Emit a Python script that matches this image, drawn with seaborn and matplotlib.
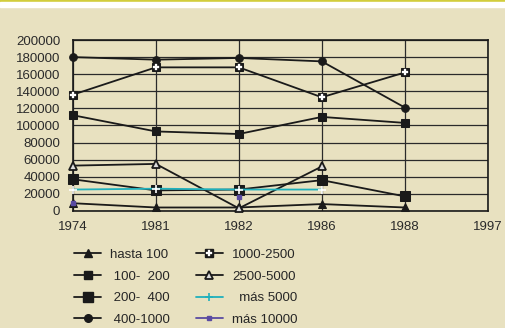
import numpy as np
import pandas as pd
import matplotlib
matplotlib.use('Agg')
import matplotlib.pyplot as plt
import seaborn as sns
from matplotlib.lines import Line2D
from matplotlib.legend_handler import HandlerTuple

# Data
years = ['1974', '1981', '1982', '1986', '1988', '1997']
hasta_100 = [9000, 4000, 4000, 8000, 4000]
r100_200 = [112000, 93000, 90000, 110000, 103000]
r200_400 = [37000, 24000, 25000, 36000, 17000]
r400_1000 = [180000, 177000, 179000, 175000, 121000]
r1000_2500 = [136000, 168000, 168000, 133000, 162000]
r2500_5000 = [53000, 55000, 3000, 52000]
mas_5000 = [25000, 26000, 25000, 25000]
mas_10000 = [9000, np.nan, 16000]

bg = '#E8E1C0'
ink = '#1a1a1a'
sns.set_theme(style='white', rc={'axes.facecolor': bg, 'figure.facecolor': bg})
plt.rcParams['font.family'] = ['Liberation Sans', 'DejaVu Sans']

fig = plt.figure(figsize=(5.06, 3.28), dpi=100)
ax = fig.add_axes([0.144, 0.357, 0.820, 0.521])

# top decorative band
fig.patches.append(plt.Rectangle((0, 1 - 2 / 328), 1, 2 / 328, transform=fig.transFigure,
                                 color='#D2CD3C', zorder=0))
fig.patches.append(plt.Rectangle((0, 1 - 7 / 328), 1, 5 / 328, transform=fig.transFigure,
                                 color='white', zorder=0))

lw = 1.3
styles = {
    'hasta 100': dict(color=ink, marker='^', ms=5.5, mfc=ink, mec=ink),
    '100-  200': dict(color=ink, marker='s', ms=5.5, mfc=ink, mec=ink),
    '200-  400': dict(color=ink, marker='s', ms=6.5, mfc=ink, mec=ink),
    '400-1000': dict(color=ink, marker='o', ms=5.5, mfc=ink, mec=ink),
    '1000-2500': dict(color=ink, marker='s', ms=6, mfc=ink, mec=ink),
    '2500-5000': dict(color=ink, marker='^', ms=5.5, mfc='#dcdcdc', mec=ink, mew=1.3),
    'más 5000': dict(color='#1FB0BC', marker='+', ms=6, mew=1.2),
    'más 10000': dict(color='#5A4BA2', marker='s', ms=3.5, mfc='#5A4BA2', mec='#5A4BA2'),
}
series = [('hasta 100', hasta_100), ('100-  200', r100_200), ('200-  400', r200_400),
          ('400-1000', r400_1000), ('1000-2500', r1000_2500), ('2500-5000', r2500_5000),
          ('más 5000', mas_5000)]

for name, vals in series:
    df = pd.DataFrame({'x': np.arange(len(vals)), 'y': vals})
    sns.lineplot(data=df, x='x', y='y', ax=ax, lw=lw, clip_on=False, zorder=4,
                 **styles[name])

# white plus on the 1000-2500 squares
plus_kw = dict(ls='none', marker='P', ms=4.5, mfc='white', mec='white', mew=0.2)
ax.plot(np.arange(len(r1000_2500)), r1000_2500, clip_on=False, zorder=5, **plus_kw)
# más 10000 keeps its gap, so plain plot
ax.plot(np.arange(len(mas_10000)), mas_10000, lw=lw, clip_on=False, zorder=4,
        **styles['más 10000'])

ax.set_xlim(0, 5)
ax.set_ylim(0, 200000)
ax.set_xticks(range(6))
ax.set_xticklabels(years)
ax.set_yticks(range(0, 200001, 20000))
ax.set_yticklabels([str(v) for v in range(0, 200001, 20000)])
ax.set_xlabel('')
ax.set_ylabel('')
ax.grid(True, color='#2a2a2a', lw=0.9)
ax.set_axisbelow(True)
for s in ax.spines.values():
    s.set_color(ink)
    s.set_linewidth(1.2)
ax.tick_params(axis='x', labelsize=9.5, colors=ink, length=5, width=1.2,
               direction='inout', pad=5)
ax.tick_params(axis='y', labelsize=9.5, colors=ink, length=3, width=1.2,
               direction='out', pad=6)
for t in ax.get_xticklabels() + ax.get_yticklabels():
    t.set_color('#2a2a2a')

# legend handles built by hand, labels padded to look right-aligned
order = ['hasta 100', '100-  200', '200-  400', '400-1000',
         '1000-2500', '2500-5000', 'más 5000', 'más 10000']
shown = ['hasta 100', ' 100-  200', ' 200-  400', ' 400-1000',
         '1000-2500', '2500-5000', '  más 5000', 'más 10000']
handles = []
for name in order:
    h = Line2D([], [], lw=lw, **styles[name])
    if name == '1000-2500':
        h = (h, Line2D([], [], **plus_kw))
    handles.append(h)
fig.legend(handles, shown, ncol=2, loc='upper left', bbox_to_anchor=(0.134, 0.262),
           frameon=False, fontsize=9.5, handlelength=2.0, handletextpad=0.7,
           columnspacing=2.0, labelspacing=0.72, borderpad=0,
           handler_map={tuple: HandlerTuple(ndivide=1)})

fig.savefig('out.png', dpi=100, facecolor=bg)
